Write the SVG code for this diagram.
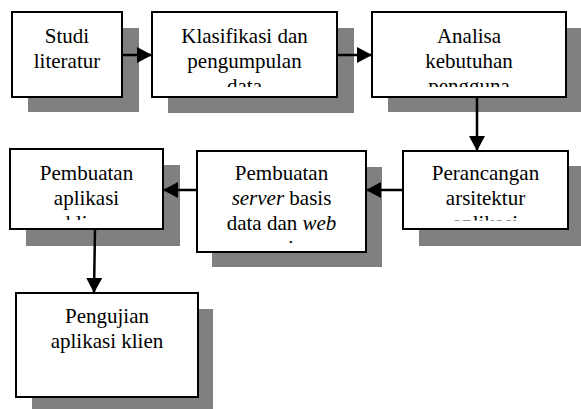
<svg xmlns="http://www.w3.org/2000/svg" width="581" height="409" viewBox="0 0 581 409">
<style>
.sh{fill:#808080;stroke:none}
.bx{fill:#fff;stroke:#000;stroke-width:2}
.t{font-family:"Liberation Serif","Times New Roman",serif;font-size:21px;fill:#000;text-anchor:middle}
.i{font-style:italic}
.c{stroke:#000;stroke-width:2.5;fill:none}
</style>
<defs>
<marker id="ah" markerUnits="userSpaceOnUse" markerWidth="16" markerHeight="16" viewBox="0 0 16 16" refX="15" refY="8" orient="auto">
<path d="M0,0 L15,8 L0,16 Z" fill="#000"/>
</marker>
<clipPath id="c2"><rect x="152" y="12" width="185" height="75"/></clipPath>
<clipPath id="c3"><rect x="372" y="12" width="194" height="75"/></clipPath>
<clipPath id="c4"><rect x="403" y="151" width="165" height="69.5"/></clipPath>
<clipPath id="c5"><rect x="197" y="151" width="169" height="92"/></clipPath>
<clipPath id="c6"><rect x="10" y="149" width="153" height="71"/></clipPath>
</defs>
<g id="node1">
<rect class="sh" x="28" y="28" width="111" height="84"/>
<rect class="bx" x="12" y="12" width="110" height="85"/>
<text class="t" x="67" y="43">Studi</text>
<text class="t" x="67" y="68">literatur</text>
</g>
<g id="node2">
<rect class="sh" x="168" y="28" width="186" height="85"/>
<rect class="bx" x="152" y="12" width="185" height="85"/>
<g clip-path="url(#c2)">
<text class="t" x="244.5" y="43">Klasifikasi dan</text>
<text class="t" x="244.5" y="68">pengumpulan</text>
<text class="t" x="244.5" y="93">data</text>
</g>
</g>
<g id="node3">
<rect class="sh" x="388" y="28" width="195" height="84"/>
<rect class="bx" x="372" y="12" width="194" height="85"/>
<g clip-path="url(#c3)">
<text class="t" x="469" y="43">Analisa</text>
<text class="t" x="469" y="68">kebutuhan</text>
<text class="t" x="469" y="93">pengguna</text>
</g>
</g>
<g id="node4">
<rect class="sh" x="419" y="166" width="165" height="80"/>
<rect class="bx" x="403" y="151" width="165" height="78"/>
<g clip-path="url(#c4)">
<text class="t" x="485.5" y="180">Perancangan</text>
<text class="t" x="485.5" y="205">arsitektur</text>
<text class="t" x="485.5" y="230">aplikasi</text>
</g>
</g>
<g id="node5">
<rect class="sh" x="212" y="167" width="170" height="100"/>
<rect class="bx" x="197" y="151" width="169" height="101"/>
<g clip-path="url(#c5)">
<text class="t" x="281.5" y="180">Pembuatan</text>
<text class="t" x="281.5" y="205"><tspan class="i">server</tspan> basis</text>
<text class="t" x="281.5" y="230">data dan <tspan class="i">web</tspan></text>
<text class="t i" x="281.5" y="255">service</text>
</g>
</g>
<g id="node6">
<rect class="sh" x="26" y="165" width="154" height="81"/>
<rect class="bx" x="10" y="149" width="153" height="80"/>
<g clip-path="url(#c6)">
<text class="t" x="86.5" y="180">Pembuatan</text>
<text class="t" x="86.5" y="205">aplikasi</text>
<text class="t" x="86.5" y="230">klien</text>
</g>
</g>
<g id="node7">
<rect class="sh" x="32" y="309" width="181" height="104"/>
<rect class="bx" x="16" y="293" width="182" height="104"/>
<text class="t" x="107" y="323">Pengujian</text>
<text class="t" x="107" y="348">aplikasi klien</text>
</g>
<g id="connectors">
<line class="c" x1="122" y1="55" x2="152" y2="55" marker-end="url(#ah)"/>
<line class="c" x1="337" y1="55" x2="372" y2="55" marker-end="url(#ah)"/>
<line class="c" x1="477" y1="97" x2="477" y2="151" marker-end="url(#ah)"/>
<line class="c" x1="403" y1="190" x2="366" y2="190" marker-end="url(#ah)"/>
<line class="c" x1="197" y1="190" x2="163" y2="190" marker-end="url(#ah)"/>
<line class="c" x1="95" y1="229" x2="94" y2="293" marker-end="url(#ah)"/>
</g>
</svg>
